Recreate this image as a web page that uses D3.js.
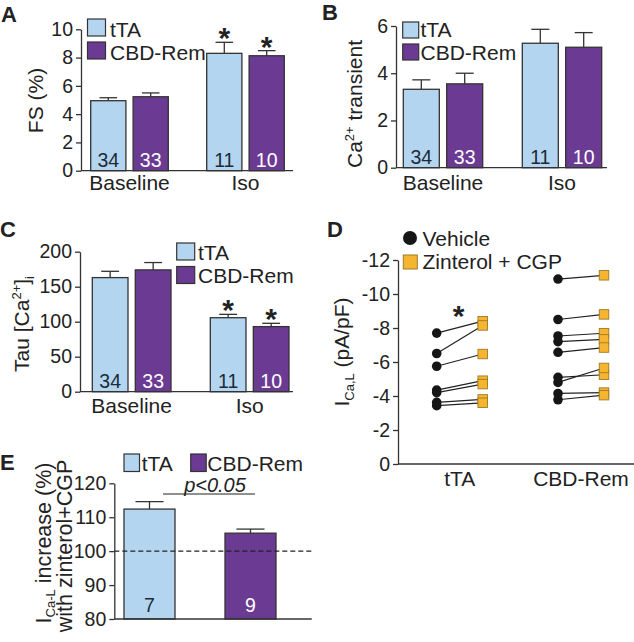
<!DOCTYPE html>
<html><head><meta charset="utf-8">
<script src="https://cdn.jsdelivr.net/npm/d3@7"></script>
<style>
body{margin:0;background:#fff}
svg{display:block}
text{font-family:"Liberation Sans",Arial,Helvetica,sans-serif;fill:#222}
</style>
</head><body>
<svg id="c" width="634" height="642"></svg>
<script>
// ---------------- DATA ----------------
const groups = ["Baseline", "Iso"];
const series = ["tTA", "CBD-Rem"];
const nCells = {"tTA": [34, 11], "CBD-Rem": [33, 10]};

// Panel A: FS (%)
const fsTTA = [4.95, 8.3];
const fsTTAerr = [0.21, 0.78];
const fsCBD = [5.23, 8.13];
const fsCBDerr = [0.27, 0.36];
const fsSig = {"tTA": [false, true], "CBD-Rem": [false, true]};
const fsTicks = [0, 2, 4, 6, 8, 10];

// Panel B: Ca2+ transient
const caTTA = [3.32, 5.27];
const caTTAerr = [0.40, 0.59];
const caCBD = [3.55, 5.1];
const caCBDerr = [0.45, 0.62];
const caTicks = [0, 2, 4, 6];

// Panel C: Tau [Ca2+]i
const tauTTA = [163, 105.7];
const tauTTAerr = [9, 4.8];
const tauCBD = [174, 93];
const tauCBDerr = [10.5, 4.7];
const tauSig = {"tTA": [false, true], "CBD-Rem": [false, true]};
const tauTicks = [0, 50, 100, 150, 200];

// Panel D: ICa,L (pA/pF), paired cells
const dGroups = ["tTA", "CBD-Rem"];
const dConds = ["Vehicle", "Zinterol + CGP"];
const dVehicleTTA = [-7.7, -6.5, -5.75, -4.35, -4.2, -3.63, -3.43];
const dZinterolTTA = [-8.4, -8.15, -6.47, -4.9, -4.7, -3.8, -3.6];
const dVehicleCBD = [-10.88, -8.5, -7.53, -7.2, -6.57, -5.1, -4.8, -4.15, -3.78];
const dZinterolCBD = [-11.1, -8.8, -7.69, -7.33, -6.85, -5.25, -5.65, -4.2, -4.05];
const dTicks = [0, -2, -4, -6, -8, -10, -12];

// Panel E: ICa-L increase (%) with zinterol+CGP
const eVals = [112.4, 105.3];
const eErr = [2.2, 1.2];
const eN = [7, 9];
const eTicks = [80, 90, 100, 110, 120];
const eRef = 100;

// ---------------- DRAWING ----------------
const svg = d3.select("#c");
const FONT = '"Liberation Sans", Arial, Helvetica, sans-serif';
const color = {"tTA": "#b4d5ef", "CBD-Rem": "#6b3a93"};
const nColor = {"tTA": "#1c2a38", "CBD-Rem": "#ffffff"};
const AX = "#333";

function yAxis(g, y, ticks, x) {
  const ax = d3.axisLeft(y).tickValues(ticks).tickSize(5).tickSizeOuter(0).tickPadding(3)
    .tickFormat(d => String(d));
  const a = g.append("g").attr("transform", `translate(${x},0)`).call(ax);
  a.select(".domain").attr("stroke", AX).attr("stroke-width", 1.3);
  a.selectAll(".tick line").attr("stroke", AX).attr("stroke-width", 1.3);
  a.selectAll(".tick text").attr("font-size", 19.5).attr("font-family", FONT).attr("fill", "#222");
  return a;
}

function panelLabel(t, x, y) {
  svg.append("text").attr("x", x).attr("y", y).attr("font-size", 22).attr("font-weight", "bold")
    .attr("fill", "#111").text(t);
}

function legend(items, x, ys, w, h, tx, tys) {
  items.forEach((s, i) => {
    svg.append("rect").attr("x", x[i]).attr("y", ys[i]).attr("width", w).attr("height", h)
      .attr("fill", color[s]).attr("stroke", AX).attr("stroke-width", 1.2);
    svg.append("text").attr("x", tx[i]).attr("y", tys[i]).attr("font-size", 21).text(s);
  });
}

function barPanel(o) {
  const g = svg.append("g");
  const y = d3.scaleLinear().domain(o.yDomain).range(o.yRange);
  const [a, b] = o.barRange;
  const step = (b - a) - o.groupW;
  const x0 = d3.scaleBand().domain(groups).range([a, b]).paddingInner(1 - o.groupW / step).paddingOuter(0);
  const x1 = d3.scaleBand().domain(series).range([0, x0.bandwidth()]).paddingInner(o.innerPad);
  const data = [];
  groups.forEach((grp, i) => series.forEach(s => data.push({
    grp, s, v: o.vals[s][i], e: o.errs[s][i], n: nCells[s][i], sig: o.sig ? o.sig[s][i] : false
  })));
  const bx = d => x0(d.grp) + x1(d.s);
  const cx = d => bx(d) + x1.bandwidth() / 2;
  const capW = x1.bandwidth() * 0.5;
  data.forEach(d => {
    g.append("line").attr("x1", cx(d)).attr("x2", cx(d)).attr("y1", y(d.v)).attr("y2", y(d.v + d.e))
      .attr("stroke", AX).attr("stroke-width", 1.3);
    g.append("line").attr("x1", cx(d) - capW / 2).attr("x2", cx(d) + capW / 2)
      .attr("y1", y(d.v + d.e)).attr("y2", y(d.v + d.e)).attr("stroke", AX).attr("stroke-width", 1.3);
    if (d.sig) {
      g.append("text").attr("x", cx(d)).attr("y", y(d.v + d.e) + 6).attr("text-anchor", "middle")
        .attr("font-size", 30).attr("font-weight", "bold").attr("fill", "#111").text("*");
    }
  });
  g.selectAll("rect.bar").data(data).join("rect").attr("class", "bar")
    .attr("x", bx).attr("width", x1.bandwidth())
    .attr("y", d => y(d.v)).attr("height", d => y(o.yDomain[0]) - y(d.v))
    .attr("fill", d => color[d.s]).attr("stroke", AX).attr("stroke-width", 1.3);
  g.selectAll("text.n").data(data).join("text").attr("class", "n")
    .attr("x", cx).attr("y", y(o.yDomain[0]) - 4).attr("text-anchor", "middle")
    .attr("font-size", 19.5).style("fill", d => nColor[d.s]).text(d => d.n);
  g.append("line").attr("x1", o.xAxis[0]).attr("x2", o.xAxis[1]).attr("y1", y(o.yDomain[0])).attr("y2", y(o.yDomain[0]))
    .attr("stroke", AX).attr("stroke-width", 1.3);
  yAxis(g, y, o.ticks, o.xAxis[0]);
  groups.forEach(grp => {
    g.append("text").attr("x", x0(grp) + x0.bandwidth() / 2).attr("y", y(o.yDomain[0]) + o.labelDy)
      .attr("text-anchor", "middle").attr("font-size", 21).text(grp);
  });
  return g;
}

// ---- Panel A ----
panelLabel("A", 1, 22);
barPanel({
  yDomain: [0, 10], yRange: [170.7, 29.3], ticks: fsTicks, xAxis: [81, 293],
  barRange: [90.7, 284.3], groupW: 77.6, innerPad: 0.17,
  vals: {"tTA": fsTTA, "CBD-Rem": fsCBD}, errs: {"tTA": fsTTAerr, "CBD-Rem": fsCBDerr}, sig: fsSig, labelDy: 19.5
});
legend(series, [87.5, 87.5], [19, 42], 18, 17, [110, 110], [36.5, 59.5]);
svg.append("text").attr("transform", "translate(43,100.5) rotate(-90)").attr("text-anchor", "middle")
  .attr("font-size", 21).text("FS (%)");

// ---- Panel B ----
panelLabel("B", 322, 20);
barPanel({
  yDomain: [0, 6], yRange: [167.7, 26], ticks: caTicks, xAxis: [396, 607],
  barRange: [403.3, 601.7], groupW: 79.4, innerPad: 0.17,
  vals: {"tTA": caTTA, "CBD-Rem": caCBD}, errs: {"tTA": caTTAerr, "CBD-Rem": caCBDerr}, labelDy: 22
});
legend(series, [402.7, 402.7], [22, 44], 16, 16, [420.5, 420.5], [37, 60]);
(() => {
  const t = svg.append("text").attr("transform", "translate(361.5,104) rotate(-90)").attr("text-anchor", "middle")
    .attr("font-size", 21);
  t.append("tspan").text("Ca");
  t.append("tspan").attr("font-size", 13).attr("dy", -8).text("2+");
  t.append("tspan").attr("dy", 8).text(" transient");
})();

// ---- Panel C ----
panelLabel("C", 0, 237);
barPanel({
  yDomain: [0, 200], yRange: [391.7, 251.7], ticks: tauTicks, xAxis: [80, 293],
  barRange: [92.3, 289], groupW: 78.7, innerPad: 0.17,
  vals: {"tTA": tauTTA, "CBD-Rem": tauCBD}, errs: {"tTA": tauTTAerr, "CBD-Rem": tauCBDerr}, sig: tauSig, labelDy: 21
});
legend(series, [176.7, 176.7], [243, 266.5], 18, 17, [198, 198], [259.5, 282.7]);
(() => {
  const t = svg.append("text").attr("transform", "translate(28.5,324) rotate(-90)").attr("text-anchor", "middle")
    .attr("font-size", 21);
  t.append("tspan").text("Tau [Ca");
  t.append("tspan").attr("font-size", 13).attr("dy", -8).text("2+");
  t.append("tspan").attr("dy", 8).text("]");
  t.append("tspan").attr("font-size", 13).attr("dy", 5).text("i");
})();

// ---- Panel D ----
panelLabel("D", 327, 237);
(() => {
  const g = svg.append("g");
  const y = d3.scaleLinear().domain([0, -12]).range([464, 260]);
  const a = 436.7, b = 604, bw = 46;
  const step = (b - a) - bw;
  const x0 = d3.scaleBand().domain(dGroups).range([a, b]).paddingInner(1 - bw / step).paddingOuter(0);
  const x1 = d3.scalePoint().domain(dConds).range([0, x0.bandwidth()]);
  const sets = [
    {grp: "tTA", veh: dVehicleTTA, zin: dZinterolTTA},
    {grp: "CBD-Rem", veh: dVehicleCBD, zin: dZinterolCBD}
  ];
  const pairs = [];
  sets.forEach(s => s.veh.forEach((v, i) => pairs.push({grp: s.grp, v, z: s.zin[i]})));
  g.selectAll("line.pair").data(pairs).join("line").attr("class", "pair")
    .attr("x1", d => x0(d.grp) + x1(dConds[0])).attr("x2", d => x0(d.grp) + x1(dConds[1]))
    .attr("y1", d => y(d.v)).attr("y2", d => y(d.z)).attr("stroke", "#222").attr("stroke-width", 1.2);
  g.selectAll("circle.veh").data(pairs).join("circle").attr("class", "veh")
    .attr("cx", d => x0(d.grp) + x1(dConds[0])).attr("cy", d => y(d.v)).attr("r", 4.8).attr("fill", "#161616");
  const sq = 9.5;
  g.selectAll("rect.zin").data(pairs).join("rect").attr("class", "zin")
    .attr("x", d => x0(d.grp) + x1(dConds[1]) - sq / 2).attr("y", d => y(d.z) - sq / 2)
    .attr("width", sq).attr("height", sq).attr("fill", "#f6b530").attr("stroke", "#a07a25").attr("stroke-width", 0.9);
  g.append("line").attr("x1", 398).attr("x2", 634).attr("y1", y(0)).attr("y2", y(0)).attr("stroke", AX).attr("stroke-width", 1.3);
  yAxis(g, y, dTicks, 398);
  dGroups.forEach(grp => {
    g.append("text").attr("x", x0(grp) + x0.bandwidth() / 2).attr("y", y(0) + 22).attr("text-anchor", "middle")
      .attr("font-size", 21).text(grp);
  });
  const tz = d3.min(dZinterolTTA);
  g.append("text").attr("x", x0("tTA") + x0.bandwidth() / 2 - 1).attr("y", y(tz) + 5).attr("text-anchor", "middle")
    .attr("font-size", 30).attr("font-weight", "bold").attr("fill", "#111").text("*");
  g.append("circle").attr("cx", 410).attr("cy", 238).attr("r", 7).attr("fill", "#161616");
  g.append("text").attr("x", 422.5).attr("y", 245.5).attr("font-size", 21).text(dConds[0]);
  g.append("rect").attr("x", 403.3).attr("y", 255).attr("width", 14).attr("height", 14)
    .attr("fill", "#f6b530").attr("stroke", "#a07a25").attr("stroke-width", 1);
  g.append("text").attr("x", 422.5).attr("y", 269).attr("font-size", 21).text(dConds[1]);
  const t = svg.append("text").attr("transform", "translate(349,352) rotate(-90)").attr("text-anchor", "middle")
    .attr("font-size", 21);
  t.append("tspan").text("I");
  t.append("tspan").attr("font-size", 13).attr("dy", 5).text("Ca,L");
  t.append("tspan").attr("dy", -5).text(" (pA/pF)");
})();

// ---- Panel E ----
panelLabel("E", 0, 470);
(() => {
  const g = svg.append("g");
  const y = d3.scaleLinear().domain([80, 120]).range([619, 483.3]);
  const a = 124, b = 276, bw = 51;
  const step = (b - a) - bw;
  const x = d3.scaleBand().domain(series).range([a, b]).paddingInner(1 - bw / step).paddingOuter(0);
  const data = series.map((s, i) => ({s, v: eVals[i], e: eErr[i], n: eN[i]}));
  const capW = x.bandwidth() * 0.55;
  data.forEach(d => {
    const cx = x(d.s) + x.bandwidth() / 2;
    g.append("line").attr("x1", cx).attr("x2", cx).attr("y1", y(d.v)).attr("y2", y(d.v + d.e)).attr("stroke", AX).attr("stroke-width", 1.3);
    g.append("line").attr("x1", cx - capW / 2).attr("x2", cx + capW / 2).attr("y1", y(d.v + d.e)).attr("y2", y(d.v + d.e))
      .attr("stroke", AX).attr("stroke-width", 1.3);
  });
  g.selectAll("rect.bar").data(data).join("rect").attr("class", "bar")
    .attr("x", d => x(d.s)).attr("width", x.bandwidth()).attr("y", d => y(d.v)).attr("height", d => y(80) - y(d.v))
    .attr("fill", d => color[d.s]).attr("stroke", AX).attr("stroke-width", 1.3);
  g.selectAll("text.n").data(data).join("text").attr("class", "n")
    .attr("x", d => x(d.s) + x.bandwidth() / 2).attr("y", y(80) - 7).attr("text-anchor", "middle")
    .attr("font-size", 19.5).style("fill", d => nColor[d.s]).text(d => d.n);
  g.append("line").attr("x1", 114.3).attr("x2", 311.7).attr("y1", y(eRef)).attr("y2", y(eRef))
    .attr("stroke", "#222").attr("stroke-width", 1.2).attr("stroke-dasharray", "5,3");
  g.append("line").attr("x1", 114.3).attr("x2", 311.7).attr("y1", y(80)).attr("y2", y(80)).attr("stroke", AX).attr("stroke-width", 1.3);
  yAxis(g, y, eTicks, 114.3);
  g.append("line").attr("x1", 163).attr("x2", 255).attr("y1", 494).attr("y2", 494).attr("stroke", "#222").attr("stroke-width", 1.2);
  g.append("text").attr("x", 215).attr("y", 492).attr("text-anchor", "middle").attr("font-size", 20)
    .attr("font-style", "italic").text("p<0.05");
  legend(series, [124, 190.7], [454, 454], 15.5, 17.5, [141.7, 207.3], [470.5, 470.5]);
  const t1 = svg.append("text").attr("transform", "translate(51,543) rotate(-90)").attr("text-anchor", "middle")
    .attr("font-size", 21.5);
  t1.append("tspan").text("I");
  t1.append("tspan").attr("font-size", 13).attr("dy", 4).text("Ca-L");
  t1.append("tspan").attr("dy", -4).text(" increase (%)");
  svg.append("text").attr("transform", "translate(72,546) rotate(-90)").attr("text-anchor", "middle")
    .attr("font-size", 21.5).text("with zinterol+CGP");
})();
</script>
</body></html>
